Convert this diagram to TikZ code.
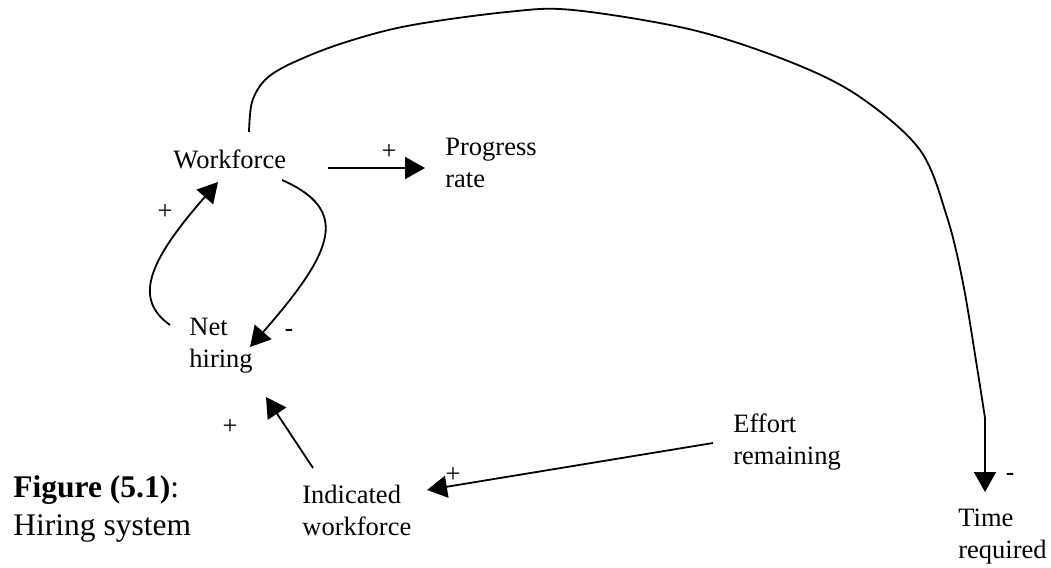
\documentclass[tikz,border=0pt]{standalone}
\usepackage{fontspec}
\setmainfont{Liberation Serif}
\newfontfamily\signfont{Liberation Sans}
\usetikzlibrary{arrows.meta}

% multi-line labels are placed by the baseline of their last line
\tikzset{
  lbl/.style={anchor=base west, align=left, inner sep=0pt,
    font=\fontsize{13.25}{15.75}\selectfont},
  caption/.style={anchor=base west, align=left, inner sep=0pt,
    font=\fontsize{15.75}{19}\selectfont},
  plus/.style={inner sep=0pt, font=\fontsize{13.25}{15}\selectfont},
  minus/.style={inner sep=0pt, font=\signfont\fontsize{13.25}{15}\selectfont},
  link/.style={line width=0.9pt, -{Triangle[length=10pt,width=11pt]}},
}

\begin{document}
\begin{tikzpicture}[x=0.5pt, y=-0.5pt]
  \useasboundingbox (0,0) rectangle (1051,568);

  % variables
  \node[lbl] (wf) at (173,168) {Workforce};
  \node[lbl] (pr) at (445,187) {Progress\\rate};
  \node[lbl] (nh) at (189,367) {Net\\hiring};
  \node[lbl] (iw) at (302,535) {Indicated\\workforce};
  \node[lbl] (er) at (733,464) {Effort\\remaining};
  \node[lbl] (tr) at (958,558) {Time\\required};

  \node[caption] (cap) at (13,535) {\textbf{Figure (5.1)}:\\Hiring system};

  % connector end points
  \coordinate (wf-e)   at (328,168);
  \coordinate (pr-w)   at (425,168);
  \coordinate (wf-se)  at (282,180);
  \coordinate (nh-ne)  at (250,347);
  \coordinate (nh-nw)  at (170,325);
  \coordinate (wf-sw)  at (218,182);
  \coordinate (iw-n)   at (313,468);
  \coordinate (nh-s)   at (266,397);
  \coordinate (er-w)   at (713,443);
  \coordinate (iw-e)   at (427,490);
  \coordinate (wf-n)   at (249,132);
  \coordinate (tr-top) at (985,418);
  \coordinate (tr-n)   at (985,492);

  % causal links
  \draw[link] (wf-e) -- (pr-w);
  \draw[link] (wf-se) .. controls (350,210) and (335,250) .. (nh-ne);
  \draw[link] (nh-nw) .. controls (135,300) and (145,265) .. (wf-sw);
  \draw[link] (iw-n) -- (nh-s);
  \draw[link] (er-w) -- (iw-e);
  \draw[line width=0.9pt] plot[smooth, tension=0.55] coordinates {
      (wf-n) (252,102) (265,80) (290,64) (340,44) (407,26) (507,12) (573,10)
      (693,30) (793,63) (860,97) (920,150) (947,217) (963,283)
      (977,367) (tr-top)};
  \draw[link] (tr-top) -- (tr-n);

  % polarities
  \node[plus]  (p1) at (389,152) {+};
  \node[plus]  (p2) at (165,212) {+};
  \node[minus] (m1) at (289,333) {-};
  \node[plus]  (p3) at (230,427) {+};
  \node[plus]  (p4) at (453,475) {+};
  \node[minus] (m2) at (1010,477) {-};
\end{tikzpicture}
\end{document}
